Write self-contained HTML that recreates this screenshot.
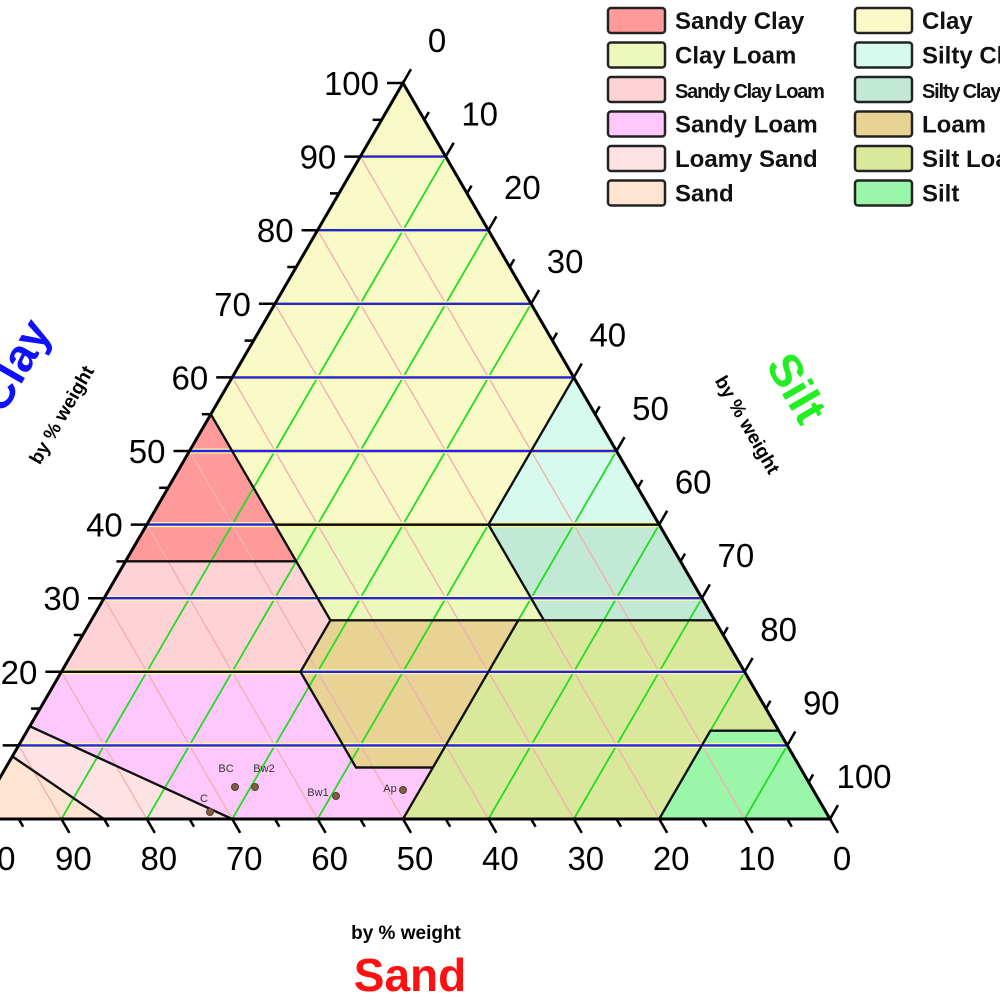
<!DOCTYPE html>
<html><head><meta charset="utf-8"><style>
html,body{margin:0;padding:0;background:#fff;width:1000px;height:1000px;overflow:hidden}
svg{display:block}
text{font-family:"Liberation Sans",sans-serif}
</style></head><body>
<svg id="s" width="1000" height="1000" viewBox="0 0 1000 1000" xmlns="http://www.w3.org/2000/svg"></svg>
<script>
const AX=403,AY=83,BRX=830,BY=819,W=854,H=736;
function P(s,c){return [BRX - W*s/100 - (W/2)*c/100, BY - H*c/100];}
function pts(a){return a.map(p=>P(p[0],p[1]).map(v=>v.toFixed(1)).join(',')).join(' ');}
let o='';
const polys=[
['#fafac8',[[0,100],[0,60],[20,40],[45,40],[45,55]]],
['#d6fbee',[[0,60],[0,40],[20,40]]],
['#ff9a9a',[[45,55],[45,35],[65,35]]],
['#ecf8bc',[[20,40],[45,40],[45,27],[20,27]]],
['#c2e8d6',[[0,40],[20,40],[20,27],[0,27]]],
['#ffd2d6',[[65,35],[45,35],[45,27],[52,20],[80,20]]],
['#e8d294',[[45,27],[52,20],[52,7],[43,7],[23,27]]],
['#dae89c',[[23,27],[43,7],[50,0],[20,0],[8,12],[0,12],[0,27]]],
['#9af7aa',[[0,12],[8,12],[20,0],[0,0]]],
['#ffc8fc',[[80,20],[52,20],[52,7],[43,7],[50,0],[70,0],[87.4,12.6]]],
['#ffe2e4',[[87.4,12.6],[70,0],[85,0],[91.5,8.5]]],
['#ffe4d2',[[91.5,8.5],[85,0],[100,0]]],
];
polys.forEach(p=>o+=`<polygon points="${pts(p[1])}" fill="${p[0]}" stroke="none"/>`);
function L(a,b,st,w){const p=P(a[0],a[1]),q=P(b[0],b[1]);return `<line x1="${p[0].toFixed(1)}" y1="${p[1].toFixed(1)}" x2="${q[0].toFixed(1)}" y2="${q[1].toFixed(1)}" stroke="${st}" stroke-width="${w}"/>`;}
for(let i=10;i<100;i+=10){
 o+=L([i,0],[i,100-i],'#f2b0b0',1.4);
}
for(let i=10;i<100;i+=10){
 o+=L([100-i,0],[0,100-i],'#22dd22',1.8);
}
for(let i=10;i<100;i+=10){
 o+=L([0,i],[100-i,i],'#ffff90',5);
 o+=L([0,i],[100-i,i],'#2222ee',2.4);
}
polys.forEach(p=>o+=`<polygon points="${pts(p[1])}" fill="none" stroke="#111" stroke-width="2.2"/>`);
o+=`<polygon points="${pts([[0,100],[100,0],[0,0]])}" fill="none" stroke="#000" stroke-width="3"/>`;
for(let i=0;i<=100;i+=5){
 const big=i%10==0, len=big?16:9;
 let p=P(100-i,i); o+=`<line x1="${p[0]}" y1="${p[1]}" x2="${p[0]-len}" y2="${p[1]}" stroke="#000" stroke-width="2.5"/>`;
 p=P(0,100-i); o+=`<line x1="${p[0]}" y1="${p[1]}" x2="${p[0]+len*0.5}" y2="${p[1]-len*0.866}" stroke="#000" stroke-width="2.5"/>`;
 p=P(i,0); o+=`<line x1="${p[0]}" y1="${p[1]}" x2="${p[0]+len*0.5}" y2="${p[1]+len*0.866}" stroke="#000" stroke-width="2.5"/>`;
}
for(let i=0;i<=100;i+=10){
 let p=P(100-i,i); o+=`<text x="${p[0]-24}" y="${p[1]+12}" font-size="33" text-anchor="end">${i}</text>`;
 p=P(0,100-i); o+=`<text x="${p[0]+34}" y="${p[1]-31}" font-size="33" text-anchor="middle">${i}</text>`;
 p=P(i,0); o+=`<text x="${p[0]+12}" y="${p[1]+51}" font-size="33" text-anchor="middle">${i}</text>`;
}
[[235,787,'BC',226,772],[255,787,'Bw2',264,772],[210,812,'C',204,802],[336,796,'Bw1',318,796],[403,790,'Ap',390,792]].forEach(d=>{
 o+=`<circle cx="${d[0]}" cy="${d[1]}" r="3.5" fill="#8a5a3a" stroke="#444" stroke-width="1"/>`;
 o+=`<text x="${d[3]}" y="${d[4]}" font-size="11" fill="#333" text-anchor="middle">${d[2]}</text>`;
});
o+=`<text x="14" y="381" font-size="46" font-weight="bold" fill="#1010ff" text-anchor="middle" transform="rotate(-60 14 365)">Clay</text>`;
o+=`<text x="62" y="421" font-size="19" font-weight="bold" text-anchor="middle" transform="rotate(-60 62 415)">by % weight</text>`;
o+=`<text x="797" y="404" font-size="46" font-weight="bold" fill="#22ee22" text-anchor="middle" transform="rotate(60 797 388)">Silt</text>`;
o+=`<text x="747" y="431" font-size="19" font-weight="bold" text-anchor="middle" transform="rotate(60 747 425)">by % weight</text>`;
o+=`<text x="406" y="939" font-size="19" font-weight="bold" text-anchor="middle">by % weight</text>`;
o+=`<text x="410" y="991" font-size="46" font-weight="bold" fill="#ff1010" text-anchor="middle">Sand</text>`;
const leg1=[['#ff9a9a','Sandy Clay'],['#ecf8bc','Clay Loam'],['#ffd2d6','Sandy Clay Loam'],['#ffc8fc','Sandy Loam'],['#ffe2e4','Loamy Sand'],['#ffe4d2','Sand']];
const leg2=[['#fafac8','Clay'],['#d6fbee','Silty Clay'],['#c2e8d6','Silty Clay Loam'],['#e8d294','Loam'],['#dae89c','Silt Loam'],['#9af7aa','Silt']];
function leg(arr,x){arr.forEach((e,i)=>{const y=8+i*34.5;
 o+=`<rect x="${x}" y="${y}" width="57" height="25" rx="3" fill="${e[0]}" stroke="#222" stroke-width="2.5"/>`;
 const sm=e[1].indexOf('Clay Loam')>0&&e[1].length>12;
 o+=`<text x="${x+67}" y="${y+21}" font-size="${sm?20:24}" font-weight="bold" fill="#111" ${sm?'letter-spacing="-1.2"':''}>${e[1]}</text>`;});}
leg(leg1,608);leg(leg2,855);
document.getElementById('s').innerHTML=o;
</script>
</body></html>
